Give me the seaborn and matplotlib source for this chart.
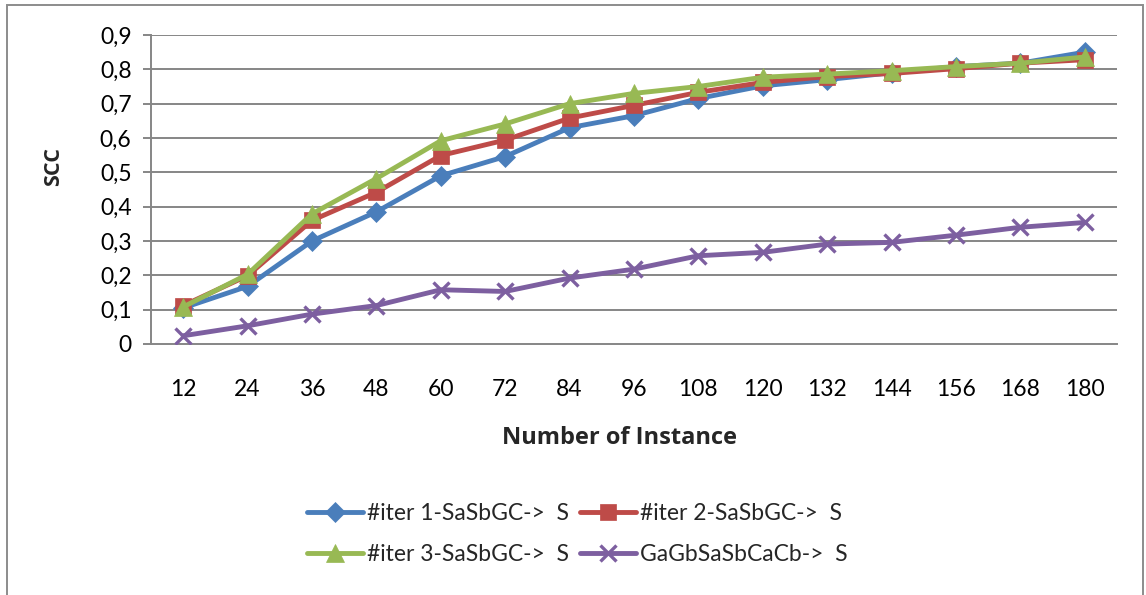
import matplotlib
matplotlib.use("Agg")
import matplotlib.pyplot as plt
from matplotlib.patches import Rectangle
from matplotlib.ticker import FixedLocator, NullFormatter
import seaborn as sns
import pandas as pd

instances = ["12", "24", "36", "48", "60", "72", "84", "96", "108", "120",
             "132", "144", "156", "168", "180"]

iter1 = [0.105, 0.168, 0.300, 0.385, 0.490, 0.546, 0.630, 0.665, 0.715, 0.752,
         0.770, 0.790, 0.808, 0.818, 0.850]
iter2 = [0.112, 0.199, 0.360, 0.442, 0.549, 0.594, 0.658, 0.695, 0.733, 0.762,
         0.779, 0.788, 0.802, 0.818, 0.828]
iter3 = [0.108, 0.203, 0.379, 0.482, 0.592, 0.641, 0.700, 0.730, 0.750, 0.777,
         0.786, 0.796, 0.808, 0.818, 0.836]
gagb = [0.024, 0.053, 0.087, 0.112, 0.158, 0.153, 0.192, 0.218, 0.257, 0.267,
        0.291, 0.296, 0.317, 0.340, 0.354]

series_names = ["#iter 1-SaSbGC->  S", "#iter 2-SaSbGC->  S",
                "#iter 3-SaSbGC->  S", "GaGbSaSbCaCb->  S"]
y_ticks = [0.0, 0.1, 0.2, 0.3, 0.4, 0.5, 0.6, 0.7, 0.8, 0.9]
y_tick_labels = ["0", "0,1", "0,2", "0,3", "0,4", "0,5", "0,6", "0,7", "0,8", "0,9"]

colors = ["#4A7EBB", "#BE4B48", "#98B954", "#7D5FA0"]
markers = ["D", "s", "^", "x"]
marker_sizes = [10, 11, 13, 12]

rows = []
for name, vals in zip(series_names, [iter1, iter2, iter3, gagb]):
    for cat, v in zip(instances, vals):
        rows.append({"Number of Instance": cat, "SCC": v, "series": name})
df = pd.DataFrame(rows)

sns.set_theme(style="white")
plt.rcParams["font.family"] = ["Lato", "DejaVu Sans"]

fig = plt.figure(figsize=(11.46, 5.95), dpi=100)
ax = fig.add_axes([151 / 1146, 1 - 344 / 595, (1117 - 151) / 1146, (344 - 35) / 595])

grid_color = "#868686"
for t in y_ticks[1:]:
    ax.axhline(t, color=grid_color, lw=1.4, zorder=0)

handles = []
for i, name in enumerate(series_names):
    sub = df[df["series"] == name]
    sns.lineplot(data=sub, x="Number of Instance", y="SCC", ax=ax,
                 color=colors[i], lw=3.5, marker=markers[i],
                 markersize=marker_sizes[i],
                 markeredgewidth=2.4 if markers[i] == "x" else 0.5,
                 markeredgecolor=colors[i], sort=False, zorder=3 + i,
                 label=name, legend=False)
    handles.append(ax.lines[-1])

ax.set_xlim(-0.5, len(instances) - 0.5)
ax.set_ylim(0, 0.9)
ax.set_yticks(y_ticks)
ax.set_yticklabels(y_tick_labels)
ax.xaxis.set_minor_locator(FixedLocator([i - 0.5 for i in range(len(instances) + 1)]))
ax.xaxis.set_minor_formatter(NullFormatter())

for side in ["top", "right"]:
    ax.spines[side].set_visible(False)
for side in ["left", "bottom"]:
    ax.spines[side].set_color(grid_color)
    ax.spines[side].set_linewidth(1.4)

ax.tick_params(axis="x", which="major", length=0, labelsize=16.5, pad=25, colors="black")
ax.tick_params(axis="x", which="minor", length=6, width=1.4, color=grid_color, direction="out")
ax.tick_params(axis="y", length=6, width=1.4, color=grid_color, direction="out",
               labelsize=16.5, pad=8, labelcolor="black", left=True)

ax.set_xlabel("Number of Instance", fontsize=17, fontweight="bold", va="center",
              family=["Open Sans", "DejaVu Sans"])
ax.xaxis.set_label_coords((620 - 151) / 966, (344 - 438) / 309)
ax.set_ylabel("SCC", fontsize=15.5, fontweight="bold", va="center",
              family=["Open Sans", "DejaVu Sans"])
ax.yaxis.set_label_coords((54 - 151) / 966, (344 - 166) / 309)

order = [0, 2, 1, 3]
fig.legend([handles[i] for i in order], [series_names[i] for i in order],
           loc="center", bbox_to_anchor=(577 / 1146, 1 - 534 / 595), ncol=2,
           frameon=False, fontsize=16.5, handlelength=2.45, handletextpad=0.17,
           columnspacing=0.48, labelspacing=0.9)

fig.patches.append(Rectangle((7 / 1146, -0.01), (1143 - 7) / 1146, 1 - 5 / 595 + 0.01,
                             transform=fig.transFigure, fill=False,
                             edgecolor="#8C8C8C", lw=1.4))

fig.savefig("out.png", dpi=100)
